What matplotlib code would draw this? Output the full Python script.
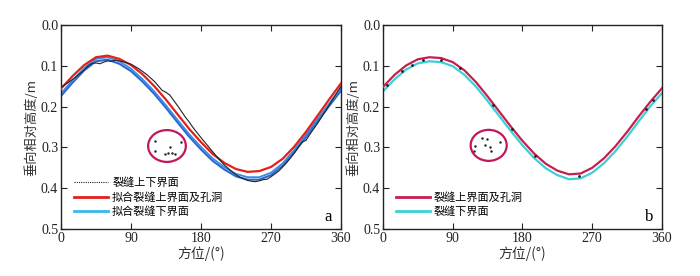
import matplotlib
matplotlib.use("Agg")
import matplotlib.pyplot as plt
from matplotlib.patches import Ellipse
from matplotlib.lines import Line2D

plt.rcParams['font.family'] = ['Noto Sans CJK SC', 'DejaVu Sans']

# ---------------- data (panel a) ----------------
theta15 = [0, 15, 30, 45, 60, 75, 90, 105, 120, 135, 150, 165, 180, 195, 210,
           225, 240, 255, 270, 285, 300, 315, 330, 345, 360]
a_red_fit = [0.156, 0.125, 0.098, 0.079, 0.075, 0.083, 0.098, 0.121, 0.150, 0.183,
             0.219, 0.255, 0.287, 0.316, 0.338, 0.353, 0.360, 0.358, 0.348, 0.328,
             0.298, 0.262, 0.222, 0.182, 0.143]
a_blue_fit_lower = [0.174, 0.141, 0.111, 0.089, 0.085, 0.095, 0.113, 0.139, 0.169, 0.203,
                    0.239, 0.274, 0.305, 0.333, 0.354, 0.371, 0.379, 0.379, 0.368, 0.345,
                    0.312, 0.275, 0.236, 0.198, 0.161]
a_blue_fit_upper = [0.168, 0.135, 0.105, 0.083, 0.079, 0.089, 0.107, 0.133, 0.163, 0.197,
                    0.233, 0.268, 0.299, 0.327, 0.348, 0.365, 0.373, 0.373, 0.362, 0.339,
                    0.306, 0.269, 0.230, 0.192, 0.155]
a_data_theta = [0, 10, 20, 30, 35, 40, 45, 50, 55, 60, 65, 70, 80, 90, 100, 110, 120,
                130, 135, 140, 150, 160, 165, 170, 180, 190, 200, 210, 220, 230, 240,
                245, 250, 255, 260, 265, 270, 280, 290, 300, 305, 310, 315, 320, 330,
                340, 350, 360]
a_data = [0.153, 0.140, 0.126, 0.110, 0.100, 0.094, 0.093, 0.095, 0.091, 0.088, 0.089,
          0.086, 0.090, 0.096, 0.107, 0.121, 0.138, 0.160, 0.165, 0.172, 0.198, 0.226,
          0.238, 0.252, 0.276, 0.299, 0.322, 0.343, 0.360, 0.373, 0.381, 0.383, 0.384,
          0.382, 0.379, 0.378, 0.372, 0.358, 0.338, 0.314, 0.300, 0.287, 0.283, 0.268,
          0.241, 0.211, 0.180, 0.150]
a_vug_theta = [120.9, 140.1, 153.9, 120.9, 133.7, 138.0, 142.3, 146.6]
a_vug_depth = [0.284, 0.298, 0.286, 0.308, 0.316, 0.314, 0.313, 0.316]
a_circle = (136.3, 0.2966, 48.5, 0.078)

# ---------------- data (panel b) ----------------
b_red = [0.152, 0.122, 0.099, 0.084, 0.079, 0.081, 0.091, 0.111, 0.140, 0.175, 0.212,
         0.249, 0.284, 0.315, 0.340, 0.357, 0.366, 0.364, 0.350, 0.327, 0.297, 0.262,
         0.224, 0.188, 0.155]
b_cyan = [0.163, 0.133, 0.109, 0.094, 0.089, 0.091, 0.101, 0.122, 0.151, 0.186, 0.223,
          0.260, 0.295, 0.326, 0.351, 0.368, 0.378, 0.376, 0.362, 0.339, 0.309, 0.274,
          0.236, 0.199, 0.167]
b_pts_theta = [5, 24, 37, 52, 75, 99, 142, 166, 196, 253, 340, 349]
b_pts_depth = [0.148, 0.113, 0.097, 0.085, 0.086, 0.106, 0.197, 0.256, 0.322, 0.370,
               0.206, 0.184]
b_vug_theta = [127.4, 133.8, 131.6, 138.1, 139.0, 118.7, 117.4, 151.0]
b_vug_depth = [0.278, 0.280, 0.294, 0.298, 0.308, 0.297, 0.308, 0.286]
b_circle = (136.4, 0.295, 46.5, 0.076)

xticks = [0, 90, 180, 270, 360]
yticks = [0.0, 0.1, 0.2, 0.3, 0.4, 0.5]
ylabel = '垂向相对高度/m'
xlabel = '方位/(°)'

fig = plt.figure(figsize=(7.0, 2.76), dpi=100)
ax1 = fig.add_axes([0.0871, 0.1703, 0.400, 0.7391])
ax2 = fig.add_axes([0.5471, 0.1703, 0.3986, 0.7391])

serif = 'Liberation Serif'
circ_col = '#c0185a'


def style(ax, letter):
    ax.set_xlim(0, 360)
    ax.set_ylim(0.5, 0.0)
    ax.set_xticks(xticks)
    ax.set_yticks(yticks)
    ax.set_xticklabels([str(v) for v in xticks], family=serif, fontsize=10)
    ax.set_yticklabels(['%.1f' % v for v in yticks], family=serif, fontsize=10)
    ax.tick_params(direction='in', top=True, right=True, length=4, width=0.8,
                   pad=2, colors='#222222')
    for s in ax.spines.values():
        s.set_linewidth(1.0)
        s.set_color('#222222')
    ax.set_ylabel(ylabel, fontsize=9.5, labelpad=2, color='#333333')
    ax.set_xlabel(xlabel, fontsize=10, labelpad=1, color='#333333')
    ax.text(0.955, 0.06, letter, transform=ax.transAxes, family=serif,
            fontsize=12, ha='center', va='center')


# panel a
ax1.plot(theta15, a_blue_fit_lower, color='#2a68d0', lw=1.5, zorder=2)
ax1.plot(theta15, a_blue_fit_upper, color='#3a8ae4', lw=1.3, zorder=2)
ax1.plot(theta15, a_red_fit, color='#e3201b', lw=1.6, zorder=3)
ax1.plot(a_data_theta, a_data, color='#222222', lw=0.8, zorder=4)
ax1.plot(a_vug_theta, a_vug_depth, ls='none', marker='.', ms=1.5, color='#222222')
ax1.add_patch(Ellipse((a_circle[0], a_circle[1]), a_circle[2], a_circle[3],
                      fill=False, ec=circ_col, lw=1.6))
style(ax1, 'a')
h1 = [Line2D([], [], color='#222222', lw=0.8, ls=(0, (1, 1))),
      Line2D([], [], color='#e3201b', lw=2.0),
      Line2D([], [], color='#38b8e8', lw=2.0)]
ax1.legend(h1, ['裂缝上下界面', '拟合裂缝上界面及孔洞', '拟合裂缝下界面'],
           loc='lower left', bbox_to_anchor=(0.02, 0.02), frameon=False,
           fontsize=8, handlelength=3.0, labelspacing=0.35, borderpad=0.2,
           handletextpad=0.4)

# panel b
ax2.plot(theta15, b_cyan, color='#3ccfd8', lw=1.6, zorder=2)
ax2.plot(theta15, b_red, color='#c81e4e', lw=1.6, zorder=3)
ax2.plot(b_pts_theta, b_pts_depth, ls='none', marker='.', ms=2, color='#222222', zorder=4)
ax2.plot(b_vug_theta, b_vug_depth, ls='none', marker='.', ms=1.5, color='#222222')
ax2.add_patch(Ellipse((b_circle[0], b_circle[1]), b_circle[2], b_circle[3],
                      fill=False, ec=circ_col, lw=1.6))
style(ax2, 'b')
h2 = [Line2D([], [], color='#c81e4e', lw=2.0),
      Line2D([], [], color='#3ccfd8', lw=2.0)]
ax2.legend(h2, ['裂缝上界面及孔洞', '裂缝下界面'],
           loc='lower left', bbox_to_anchor=(0.02, 0.02), frameon=False,
           fontsize=8, handlelength=3.0, labelspacing=0.35, borderpad=0.2,
           handletextpad=0.4)

fig.savefig('out.png', dpi=100)
